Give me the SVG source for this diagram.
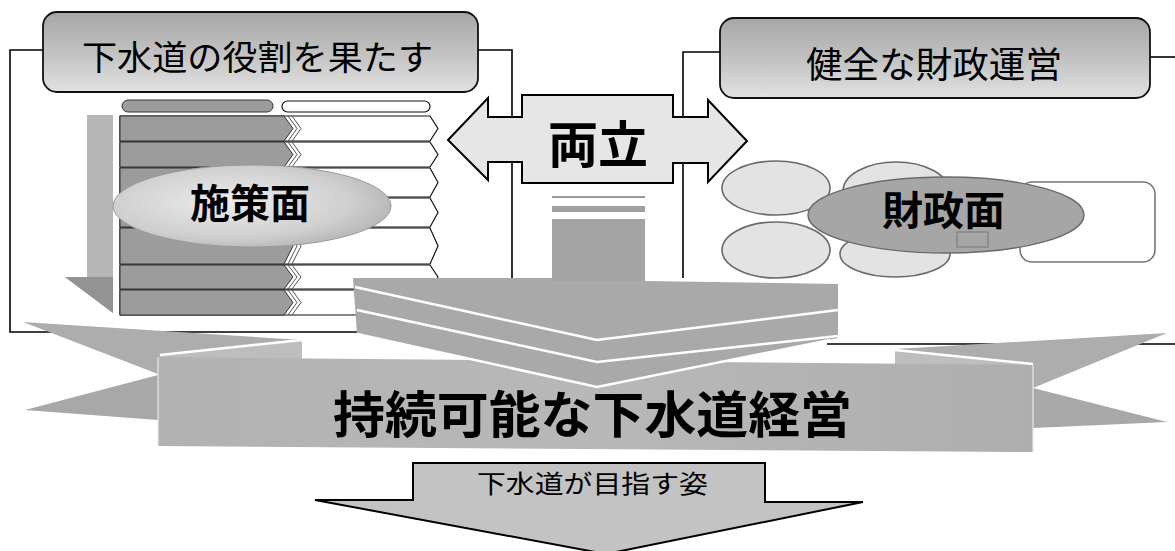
<svg xmlns="http://www.w3.org/2000/svg" width="1175" height="551" viewBox="0 0 1175 551">
<defs>
  <linearGradient id="boxGrad" x1="0" y1="0" x2="0" y2="1">
    <stop offset="0" stop-color="#a6a6a6"/>
    <stop offset="0.55" stop-color="#c4c4c4"/>
    <stop offset="1" stop-color="#e2e2e2"/>
  </linearGradient>
  <radialGradient id="lensGrad" cx="0.42" cy="0.45" r="0.62">
    <stop offset="0" stop-color="#ececec"/>
    <stop offset="0.7" stop-color="#cfcfcf"/>
    <stop offset="1" stop-color="#b4b4b4"/>
  </radialGradient>
  <linearGradient id="bannerGrad" x1="0" y1="0" x2="1" y2="0">
    <stop offset="0" stop-color="#b2b2b2"/>
    <stop offset="0.5" stop-color="#b8b8b8"/>
    <stop offset="1" stop-color="#aeaeae"/>
  </linearGradient>
</defs>
<style>
  .ln{fill:none;stroke:#000;stroke-width:1.6}
  .jp{font-family:"Noto Sans CJK JP","Noto Sans CJK SC",sans-serif;fill:#000}
  .b{font-weight:700}
  .box{fill:url(#boxGrad);stroke:#111;stroke-width:1.8}
  .row{fill:#fff;stroke:#111;stroke-width:1.2}
  .dark{fill:#9c9c9c;stroke:#333;stroke-width:1}
  .chev{fill:none;stroke:#555;stroke-width:1}
  .oval{fill:#e3e3e3;stroke:#6a6a6a;stroke-width:1.6}
  .gray{fill:#a9a9a9}
  .wl{fill:none;stroke:#fff;stroke-width:2.5}
</style>
<rect width="1175" height="551" fill="#fff"/>

<g id="connectors">
  <path class="ln" d="M43,50 H10 V332 H358"/>
  <path class="ln" d="M478,50 H512 V278"/>
  <path class="ln" d="M720,52 H683 V278"/>
  <path class="ln" d="M1150,57 H1175"/>
  <path class="ln" d="M1175,344 H827"/>
</g>

<g id="node-role">
  <rect class="box" x="43" y="12" width="435" height="80" rx="14"/>
  <text class="jp" x="82" y="70" font-size="34" textLength="351" lengthAdjust="spacingAndGlyphs">下水道の役割を果たす</text>
</g>

<g id="node-finance">
  <rect class="box" x="720" y="18" width="430" height="80" rx="14"/>
  <text class="jp" x="806" y="78" font-size="36" textLength="256" lengthAdjust="spacingAndGlyphs">健全な財政運営</text>
</g>

<g id="node-ryoritsu">
  <path d="M448,140 L488,98 L488,117 L522,117 L522,95 L673,95 L673,117 L708,117 L708,100 L747,141 L708,182 L708,163 L673,163 L673,183 L522,183 L522,162 L488,162 L488,180 Z" fill="#e6e6e6" stroke="#000" stroke-width="2"/>
  <text class="jp b" x="548" y="163" font-size="50" textLength="100" lengthAdjust="spacingAndGlyphs">両立</text>
  <rect x="552" y="196" width="93" height="2" fill="#9a9a9a"/>
  <rect x="552" y="206" width="93" height="6" fill="#a0a0a0"/>
  <rect x="552" y="219" width="93" height="62" fill="#a4a4a4"/>
</g>

<g id="node-shisaku">
  <polygon points="87,115 113,115 113,313 65,277 87,277" fill="#b6b6b6"/>
  <polygon points="65,277 113,277 113,313" fill="#939393"/>
  <rect x="122" y="100" width="151" height="12" rx="6" class="dark"/>
  <rect x="282" y="101" width="148" height="11" rx="5.5" fill="#fff" stroke="#111" stroke-width="1.2"/>
  <path class="row" d="M120,116 H430 L438,128.5 L430,141 H120 Z"/>
  <path class="row" d="M120,142 H430 L438,154.5 L430,167 H120 Z"/>
  <path class="row" d="M120,168 H430 L438,182.5 L430,197 H120 Z"/>
  <path class="row" d="M120,198 H430 L438,212.5 L430,227 H120 Z"/>
  <path class="row" d="M120,228 H430 L438,246 L430,264 H120 Z"/>
  <path class="row" d="M120,265 H430 L438,277 L430,289 H120 Z"/>
  <path class="row" d="M120,290 H430 L438,302.5 L430,315 H120 Z"/>
  <path class="dark" d="M120,116 H284 L293,128.5 L284,141 H120 Z"/>
  <path class="dark" d="M120,142 H284 L293,154.5 L284,167 H120 Z"/>
  <path class="dark" d="M120,168 H284 L293,182.5 L284,197 H120 Z"/>
  <path class="dark" d="M120,198 H284 L293,212.5 L284,227 H120 Z"/>
  <path class="dark" d="M120,228 H284 L293,246 L284,264 H120 Z"/>
  <path class="dark" d="M120,265 H284 L293,277 L284,289 H120 Z"/>
  <path class="dark" d="M120,290 H284 L293,302.5 L284,315 H120 Z"/>
  <path class="chev" d="M288,116 L297,128.5 L288,141 M292,116 L301,128.5 L292,141 M288,142 L297,154.5 L288,167 M292,142 L301,154.5 L292,167 M288,228 L297,246 L288,264 M292,228 L301,246 L292,264 M288,265 L297,277 L288,289 M292,265 L301,277 L292,289 M288,290 L297,302.5 L288,315 M292,290 L301,302.5 L292,315"/>
  <ellipse cx="252" cy="206" rx="139" ry="41" fill="url(#lensGrad)" stroke="#9a9a9a" stroke-width="1"/>
  <text class="jp b" x="190" y="218" font-size="40" textLength="120" lengthAdjust="spacingAndGlyphs">施策面</text>
</g>

<g id="node-zaisei">
  <ellipse class="oval" cx="776" cy="188" rx="54" ry="27"/>
  <ellipse class="oval" cx="776" cy="250" rx="54" ry="28"/>
  <ellipse class="oval" cx="896" cy="191" rx="53" ry="29"/>
  <ellipse class="oval" cx="895" cy="254" rx="55" ry="23"/>
  <rect x="1020" y="182" width="135" height="80" rx="12" fill="#fff" stroke="#777" stroke-width="1.6"/>
  <ellipse cx="946" cy="215" rx="138" ry="38" fill="#a6a6a6" stroke="#6a6a6a" stroke-width="1.4"/>
  <rect x="957" y="232" width="31" height="15" fill="none" stroke="#777" stroke-width="1"/>
  <text class="jp b" x="882" y="225" font-size="40" textLength="123" lengthAdjust="spacingAndGlyphs">財政面</text>
</g>

<g id="node-banner">
  <polygon points="23,322 302,340 160,355 158,374" fill="#adadad"/>
  <polygon points="25,410 158,375 158,420" fill="#a8a8a8"/>
  <polygon points="160,355 302,340 302,364 160,364" fill="#bdbdbd"/>
  <path d="M160,355 L302,340" class="wl" stroke-width="1.5"/>
  <polygon points="895,349 1167,333 1033,388" fill="#adadad"/>
  <polygon points="1033,388 1167,422 1033,428" fill="#a8a8a8"/>
  <polygon points="895,350 1033,364 1033,372 895,372" fill="#bdbdbd"/>
  <path d="M895,350 L1033,364" class="wl" stroke-width="1.5"/>
  <polygon points="158,357 1033,365 1033,452 158,446" fill="url(#bannerGrad)"/>
  <path d="M158,357 V446" stroke="#e8e8e8" stroke-width="1.2"/>
  <path d="M1033,365 V452" stroke="#e8e8e8" stroke-width="1.2"/>
  <polygon class="gray" points="353,278 552,278 552,281 645,281 838,284 838,338 597,387 357,334"/>
  <polyline class="wl" points="355,287 597,340 838,310"/>
  <polyline class="wl" points="357,310 597,362 838,336"/>
  <polyline class="wl" points="357,334 597,387 830,340"/>
  <text class="jp b" x="333" y="433" font-size="50" textLength="519" lengthAdjust="spacingAndGlyphs">持続可能な下水道経営</text>
</g>

<g id="node-goal">
  <path d="M315,500 H413 V463 H765 V502 H863 L606,554 Z" fill="#c3c3c3" stroke="#000" stroke-width="2"/>
  <text class="jp" x="477" y="493" font-size="25" textLength="231" lengthAdjust="spacingAndGlyphs">下水道が目指す姿</text>
</g>
</svg>
